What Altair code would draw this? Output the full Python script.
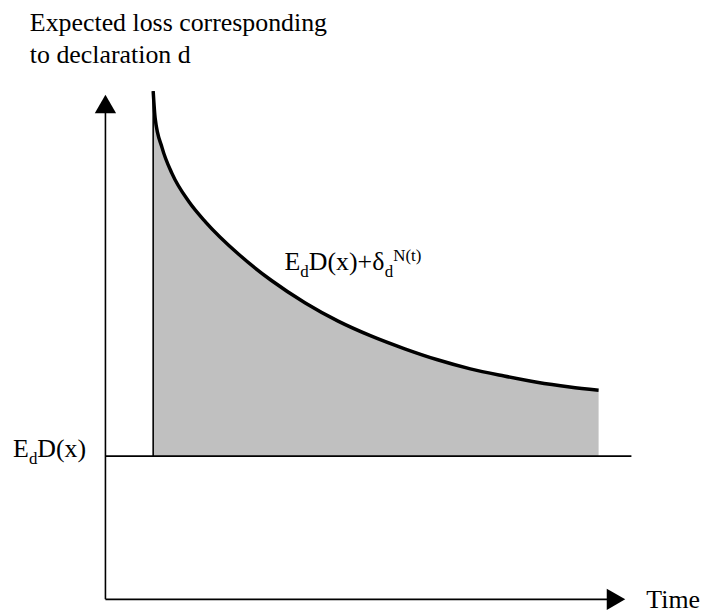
import altair as alt
import pandas as pd

# ---- data (time units, loss units) ----
curve_t = [0.96, 1.00, 1.14, 1.34, 1.68, 2.02, 2.68, 3.34, 4.02, 4.68,
           5.34, 6.02, 6.68, 7.34, 8.02, 8.68, 9.34, 9.92]
curve_loss = [10.65, 10.08, 9.46, 8.92, 8.33, 7.90, 7.23, 6.68, 6.21, 5.83,
              5.52, 5.25, 5.02, 4.83, 4.68, 4.55, 4.45, 4.38]
base_loss = 3.0          # E_d D(x)
decl_t = 0.96            # declaration time
base_end_t = 10.58       # end of E_d D(x) line
yaxis_top = 10.25        # y-axis line end (arrow base)
xaxis_end = 10.14        # x-axis line end (arrow base)
yarrow = (0.0, 10.38)
xarrow = (10.27, 0.0)

title_lines = ["Expected loss corresponding", "to declaration d"]
title_t = -1.52
title_v = [11.90, 11.23]
time_label = "Time"
time_pos = (10.88, -0.19)
base_label_pos = (-1.86, 2.98)
curve_label_pos = (3.60, 6.90)

FONT = "Liberation Serif"
xs = alt.Scale(domain=[-1.96, 12.02], nice=False, zero=False)
ys = alt.Scale(domain=[-0.271, 12.354], nice=False, zero=False)

curve_df = pd.DataFrame({"t": curve_t, "v": curve_loss, "b": [base_loss] * len(curve_t)})

area = alt.Chart(curve_df).mark_area(color="#c0c0c0", interpolate="monotone").encode(
    x=alt.X("t:Q", scale=xs, axis=None),
    y=alt.Y("v:Q", scale=ys, axis=None),
    y2="b:Q",
)
line = alt.Chart(curve_df).mark_line(color="black", strokeWidth=3.5, interpolate="monotone").encode(
    x=alt.X("t:Q", scale=xs, axis=None),
    y=alt.Y("v:Q", scale=ys, axis=None),
)

seg_df = pd.DataFrame({
    "t1": [0.0, 0.0, 0.0, decl_t],
    "t2": [0.0, xaxis_end, base_end_t, decl_t],
    "v1": [0.0, 0.0, base_loss, base_loss],
    "v2": [yaxis_top, 0.0, base_loss, curve_loss[0]],
})
rules = alt.Chart(seg_df).mark_rule(color="black", strokeWidth=1.6).encode(
    x=alt.X("t1:Q", scale=xs, axis=None),
    x2="t2:Q",
    y=alt.Y("v1:Q", scale=ys, axis=None),
    y2="v2:Q",
)

def arrow(pos, shape):
    df = pd.DataFrame({"t": [pos[0]], "v": [pos[1]]})
    return alt.Chart(df).mark_point(shape=shape, filled=True, color="black",
                                    size=460, opacity=1, strokeWidth=0).encode(
        x=alt.X("t:Q", scale=xs, axis=None),
        y=alt.Y("v:Q", scale=ys, axis=None),
    )

def txt(pos, text, size=26, dx=0, dy=0):
    df = pd.DataFrame({"t": [pos[0]], "v": [pos[1]], "s": [text]})
    return alt.Chart(df).mark_text(font=FONT, fontSize=size, align="left",
                                   baseline="alphabetic", color="black",
                                   dx=dx, dy=dy).encode(
        x=alt.X("t:Q", scale=xs, axis=None),
        y=alt.Y("v:Q", scale=ys, axis=None),
        text="s:N",
    )

layers = [area, line, rules, arrow(yarrow, "triangle-up"), arrow(xarrow, "triangle-right")]
for ln, v in zip(title_lines, title_v):
    layers.append(txt((title_t, v), ln))
layers.append(txt(time_pos, time_label))
# E_d D(x)
layers += [
    txt(base_label_pos, "E"),
    txt(base_label_pos, "d", size=17, dx=16, dy=7),
    txt(base_label_pos, "D(x)", dx=24.5),
]
# E_d D(x) + delta_d^{N(t)}
layers += [
    txt(curve_label_pos, "E"),
    txt(curve_label_pos, "d", size=17, dx=16, dy=7),
    txt(curve_label_pos, "D(x)+δ", dx=24.5),
    txt(curve_label_pos, "d", size=17, dx=101, dy=7),
    txt(curve_label_pos, "N(t)", size=17, dx=109.5, dy=-9),
]

chart = alt.layer(*layers).properties(
    width=699, height=606,
    autosize=alt.AutoSizeParams(type="none"),
    padding=0,
    background="white",
).configure_view(stroke=None)

chart.save("out.html", embed_options={"renderer": "svg", "actions": False})
